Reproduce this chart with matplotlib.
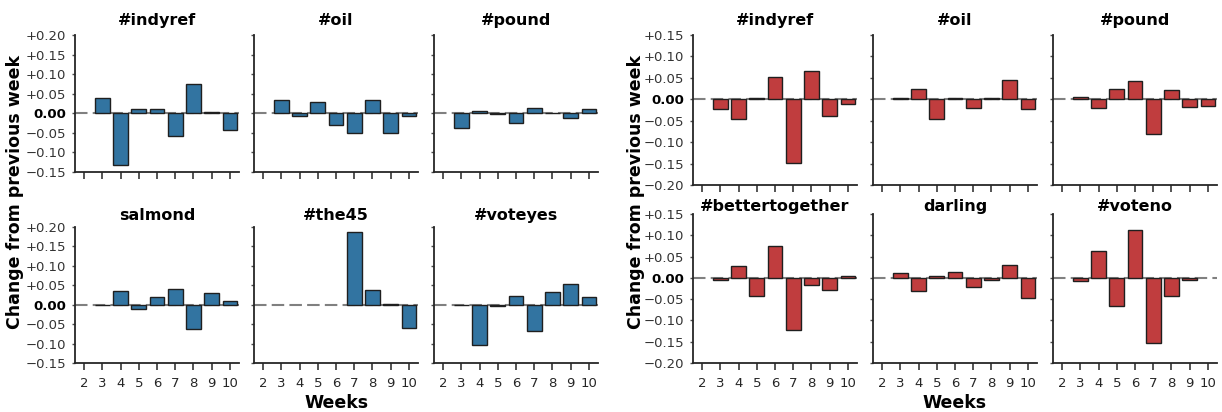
import matplotlib
matplotlib.use("Agg")
import matplotlib.pyplot as plt
import numpy as np

plt.rcParams['font.family'] = ['DejaVu Sans']

weeks = [2, 3, 4, 5, 6, 7, 8, 9, 10]

# week-on-week change in share of tweets, left block (blue)
blue_titles = ['#indyref', '#oil', '#pound', 'salmond', '#the45', '#voteyes']
blue_indyref = [0, 0.040, -0.131, 0.010, 0.012, -0.057, 0.074, 0.003, -0.043]
blue_oil = [0, 0.033, -0.008, 0.029, -0.031, -0.050, 0.033, -0.051, -0.008]
blue_pound = [0, -0.038, 0.005, -0.001, -0.024, 0.013, 0.002, -0.013, 0.012]
blue_salmond = [0, -0.001, 0.036, -0.010, 0.019, 0.040, -0.062, 0.031, 0.009]
blue_the45 = [0, 0, 0, 0, 0, 0.188, 0.038, 0.003, -0.060]
blue_voteyes = [0, -0.001, -0.104, -0.003, 0.022, -0.068, 0.033, 0.054, 0.020]

# right block (red)
red_titles = ['#indyref', '#oil', '#pound', '#bettertogether', 'darling', '#voteno']
red_indyref = [0, -0.022, -0.045, 0.002, 0.051, -0.149, 0.066, -0.039, -0.010]
red_oil = [0, 0.002, 0.023, -0.045, 0.004, -0.020, 0.004, 0.046, -0.023]
red_pound = [0, 0.005, -0.020, 0.023, 0.042, -0.080, 0.021, -0.018, -0.015]
red_bettertogether = [0, -0.005, 0.028, -0.043, 0.074, -0.123, -0.016, -0.029, 0.005]
red_darling = [0, 0.011, -0.030, 0.004, 0.014, -0.022, -0.004, 0.030, -0.048]
red_voteno = [0, -0.007, 0.063, -0.066, 0.112, -0.153, -0.042, -0.005, 0]

blue_series = [blue_indyref, blue_oil, blue_pound, blue_salmond, blue_the45, blue_voteyes]
red_series = [red_indyref, red_oil, red_pound, red_bettertogether, red_darling, red_voteno]

blue_ylim = (-0.15, 0.20)
red_ylim = (-0.20, 0.15)

W, H = 1222, 412
fig = plt.figure(figsize=(W / 100, H / 100), dpi=100)


def fmt_tick(v):
    if abs(v) < 1e-9:
        return '0.00'
    return f'{v:+.2f}'.replace('-', '\u2212')


def panel(x, y_top, w, h, vals, title, color, ylim, first_col, bottom_row, title_pad):
    ax = fig.add_axes([x / W, 1 - (y_top + h) / H, w / W, h / H])
    ax.axhline(0, color='0.5', ls=(0, (6, 2.5)), lw=1.5, zorder=1)
    lws = [0 if v == 0 else 1.0 for v in vals]
    ax.bar(weeks, vals, width=0.8, color=color, edgecolor='0.12',
           linewidth=lws, zorder=2)
    ax.set_xlim(1.5, 10.5)
    ax.set_ylim(*ylim)
    ticks = np.round(np.arange(ylim[0], ylim[1] + 0.001, 0.05), 2)
    ax.set_yticks(ticks)
    ax.set_xticks(weeks)
    for side in ('top', 'right'):
        ax.spines[side].set_visible(False)
    for side in ('left', 'bottom'):
        ax.spines[side].set_linewidth(1.3)
        ax.spines[side].set_color('0.15')
    ax.tick_params(axis='x', direction='out', length=5, width=1.1,
                   color='0.15', labelsize=9.5, labelcolor='0.15', pad=5)
    ax.tick_params(axis='y', direction='out', length=2.5, width=1,
                   color='0.3', labelsize=9.5, labelcolor='0.2', pad=4)
    if first_col:
        ax.set_yticklabels([fmt_tick(t) for t in ticks])
        for lab, t in zip(ax.get_yticklabels(), ticks):
            if abs(t) < 1e-9:
                lab.set_fontweight('bold')
                lab.set_color('black')
    else:
        ax.set_yticklabels([])
    if not bottom_row:
        ax.set_xticklabels([])
    ax.set_title(title, fontsize=11.5, fontweight='bold', pad=title_pad)
    return ax


# left block: columns and rows in pixels
blue_cols = [75, 254, 434]
blue_rows = [(35, 137, 7), (227, 136, 5)]
for i, (vals, title) in enumerate(zip(blue_series, blue_titles)):
    r, c = divmod(i, 3)
    y_top, h, pad = blue_rows[r]
    panel(blue_cols[c], y_top, 164, h, vals, title, '#3274a1', blue_ylim,
          c == 0, r == 1, pad)

red_cols = [693, 873, 1053]
red_rows = [(35, 150, 7), (214, 149, 1)]
for i, (vals, title) in enumerate(zip(red_series, red_titles)):
    r, c = divmod(i, 3)
    y_top, h, pad = red_rows[r]
    panel(red_cols[c], y_top, 164, h, vals, title, '#c03d3e', red_ylim,
          c == 0, r == 1, pad)

for xl, xw in [(15, 337), (636, 955)]:
    fig.text(xl / W, 1 - 192 / H, 'Change from previous week', rotation=90,
             ha='center', va='center', fontsize=12.5, fontweight='bold')
    fig.text(xw / W, 1 - 403 / H, 'Weeks', ha='center', va='center',
             fontsize=12.5, fontweight='bold')

fig.savefig('out.png', dpi=100)
